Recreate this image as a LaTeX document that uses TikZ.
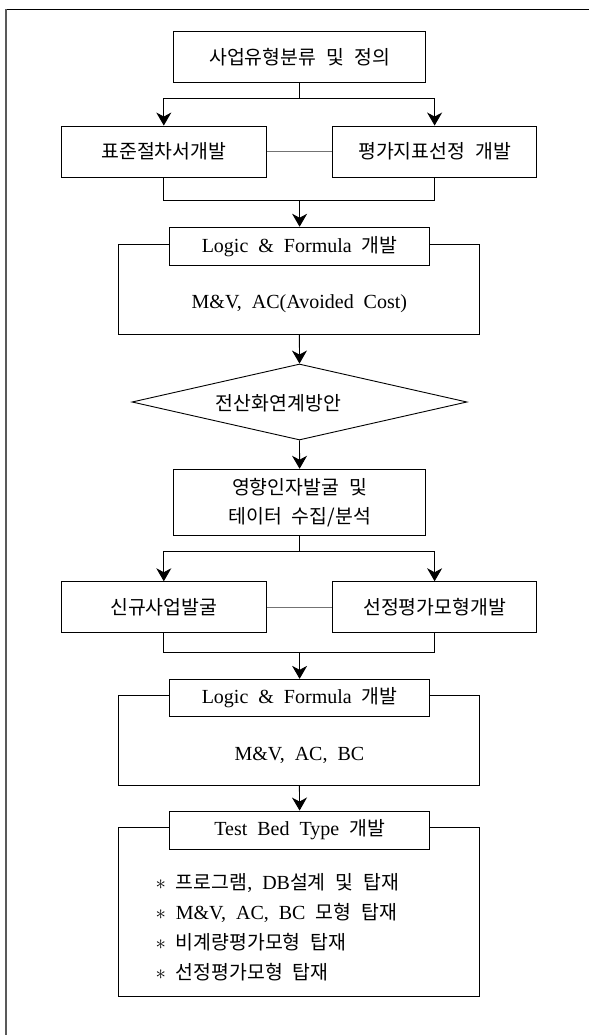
\documentclass[tikz,border=0pt]{standalone}
\usepackage{fontspec}
\setmainfont{Liberation Serif}
\newfontfamily\kr{Noto Sans CJK KR}[Scale=0.97]
\newcommand\figfont{\fontsize{20}{29}\selectfont\spaceskip=0.5em plus 0.1em\relax}
\usetikzlibrary{arrows.meta,shapes.geometric}
\begin{document}
\begin{tikzpicture}[
 x=1pt,y=-1pt,
 font=\figfont,
 box/.style={draw,fill=white,line width=.9pt,inner sep=0pt},
 wide/.style={box,minimum width=205pt,minimum height=51pt},
 head/.style={box,minimum width=260pt,minimum height=38pt},
 frame/.style={box,minimum width=361pt},
 arr/.style={line width=.9pt,-{Stealth[length=13pt,width=15pt,inset=4pt]}},
 link/.style={line width=.9pt},
 ]
 \useasboundingbox (0,0) rectangle (589,1035);
 % outer frame
 \draw[line width=1.3pt] (6,9.3) -- (589,9.3);
 \draw[line width=1.4pt,black!65] (6,9.3) -- (6,1035);

 \node[box,minimum width=252pt,minimum height=51pt] (top) at (299.6,57.2) {{\kr 사업유형분류 및 정의}};
 \node[wide] (std)  at (163.8,151.5) {{\kr 표준절차서개발}};
 \node[wide,minimum width=203.6pt] (eval) at (434.6,151.5) {{\kr 평가지표선정 개발}};

 \node[frame,minimum height=90pt] (mv1) at (299.4,289) {};
 \node[head] (lf1) at (299.6,246.2) {Logic \& Formula {\kr 개발}};
 \node (mv1t) at (299.4,303.3) {M\&V, AC(Avoided Cost)};

 \node[draw,diamond,line width=.9pt,inner sep=0pt,minimum width=335pt,minimum height=76pt] (dia) at (299.5,402) {};
 \node (diat) at (278.4,403) {{\kr 전산화연계방안}};

 \node[box,minimum width=252pt,minimum height=66pt,align=center] (fac) at (299.6,502.2)
 {{\kr 영향인자발굴 및}\\{\kr 테이터 수집/분석}};

 \node[wide] (new) at (163.8,607.2) {{\kr 신규사업발굴}};
 \node[wide,minimum width=203.6pt] (sel) at (434.6,607.2) {{\kr 선정평가모형개발}};

 \node[frame,minimum height=90.7pt] (mv2) at (299.4,740.3) {};
 \node[head,minimum height=37.4pt] (lf2) at (299.6,698) {Logic \& Formula {\kr 개발}};
 \node (mv2t) at (299.4,755) {M\&V, AC, BC};

 \node[frame,minimum height=169.4pt] (res) at (299.4,912) {};
 \node[head] (tb) at (299.6,830) {Test Bed Type {\kr 개발}};
 \foreach \p/\code in {0/{{\kr 프로그램}, DB{\kr 설계 및 탑재}},
                       1/{M\&V, AC, BC {\kr 모형 탑재}},
                       2/{{\kr 비계량평가모형 탑재}},
                       3/{{\kr 선정평가모형 탑재}}} {
 	\node[anchor=west] (item\p) at (152,883+29.7*\p) {$\ast$ \code};
 }

 \coordinate (j1) at (299.6,98.3);
 \coordinate (j2) at (299.6,200.3);
 \coordinate (j3) at (299.6,551.7);
 \coordinate (j4) at (299.6,652.3);

 % connectors
 \draw[link] (top.south) -- (j1);
 \draw[arr] (j1) -| (std.north);
 \draw[arr] (j1) -| (eval.north);
 \draw[link,black!55] (std.east) -- (eval.west);
 \draw[link] (std.south) |- (j2) -| (eval.south);
 \draw[arr] (j2) -- (lf1.north);
 \draw[arr] (mv1.south) -- (dia.north);
 \draw[arr] (dia.south) -- (fac.north);
 \draw[link] (fac.south) -- (j3);
 \draw[arr] (j3) -| (new.north);
 \draw[arr] (j3) -| (sel.north);
 \draw[link,black!55] (new.east) -- (sel.west);
 \draw[link] (new.south) |- (j4) -| (sel.south);
 \draw[arr] (j4) -- (lf2.north);
 \draw[arr] (mv2.south) -- (tb.north);
\end{tikzpicture}
\end{document}
